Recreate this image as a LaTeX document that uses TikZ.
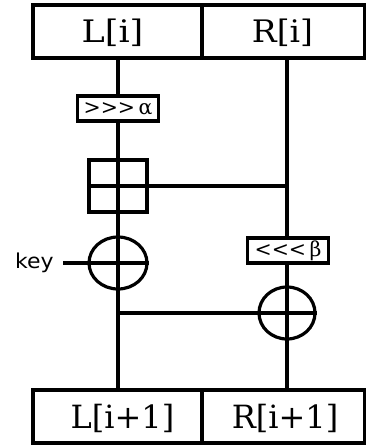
\documentclass[tikz,border=0pt]{standalone}
\usepackage{fontspec}
\usepackage{graphicx}
\newfontfamily\keyfont{DejaVu Sans}
\newfontfamily\regfont{DejaVu Serif}
\usetikzlibrary{shapes.geometric}
\begin{document}
\begin{tikzpicture}[x=1pt,y=-1pt,line width=3.2pt,
  regbox/.style={draw,rectangle,minimum height=53pt,inner sep=0pt},
  reglabel/.style={anchor=base,inner sep=0pt,font=\regfont\fontsize{20}{20}\selectfont},
  rotbox/.style={draw,rectangle,minimum width=81pt,minimum height=25pt,inner sep=0pt,font=\regfont\fontsize{20.5}{20.5}\selectfont},
  addbox/.style={draw,rectangle,minimum width=58pt,minimum height=52pt,inner sep=0pt},
  xorn/.style={draw,ellipse,minimum width=58pt,minimum height=52pt,inner sep=0pt},
  keylabel/.style={anchor=base,inner sep=0pt,font=\keyfont}]
\useasboundingbox (0,0) rectangle (366,445);
% register boxes
\node[regbox,minimum width=169pt] (Lt) at (117.5,31.5) {};
\node[regbox,minimum width=163pt] (Rt) at (283.5,31.5) {};
\node[regbox,minimum width=169pt] (Lb) at (117.5,416.5) {};
\node[regbox,minimum width=163pt] (Rb) at (283.5,416.5) {};
\node[reglabel] (LtT) at (112.5,42) {\scalebox{1.75}[1.55]{L[i]}};
\node[reglabel] (RtT) at (282.5,42) {\scalebox{1.65}[1.55]{R[i]}};
\node[reglabel] (LbT) at (122.5,428) {\scalebox{1.6}[1.6]{L[i+1]}};
\node[reglabel] (RbT) at (285,428) {\scalebox{1.6}[1.6]{R[i+1]}};
% operations
\node[rotbox] (ra) at (118,108.5) {>>>\,α};
\node[rotbox] (rb) at (288,250.5) {<<<\,β};
\node[addbox] (add) at (118,186) {};
\node[xorn] (x1) at (118,263) {};
\node[xorn,minimum width=56pt] (x2) at (287,313) {};
\node[keylabel] (key) at (34.5,268) {\scalebox{2.2}[2.05]{key}};
\coordinate (kin) at (63,263);
\coordinate (jr) at (287,186);
\coordinate (jl) at (118,313);
% left branch
\draw (ra|-Lt.south) -- (ra.north);
\draw (ra.south) -- (add.north) -- (add.south) -- (x1.north) -- (x1.south) -- (ra|-Lb.north);
\draw (add.west) -- (add.east) -- (jr);
\draw (kin) -- (x1.west) -- (x1.east);
% right branch
\draw (jr|-Rt.south) -- (jr) -- (jr|-rb.north);
\draw (jr|-rb.south) -- (x2.north) -- (x2.south) -- (x2|-Rb.north);
\draw (jl) -- (x2.west) -- (x2.east);
\end{tikzpicture}
\end{document}
